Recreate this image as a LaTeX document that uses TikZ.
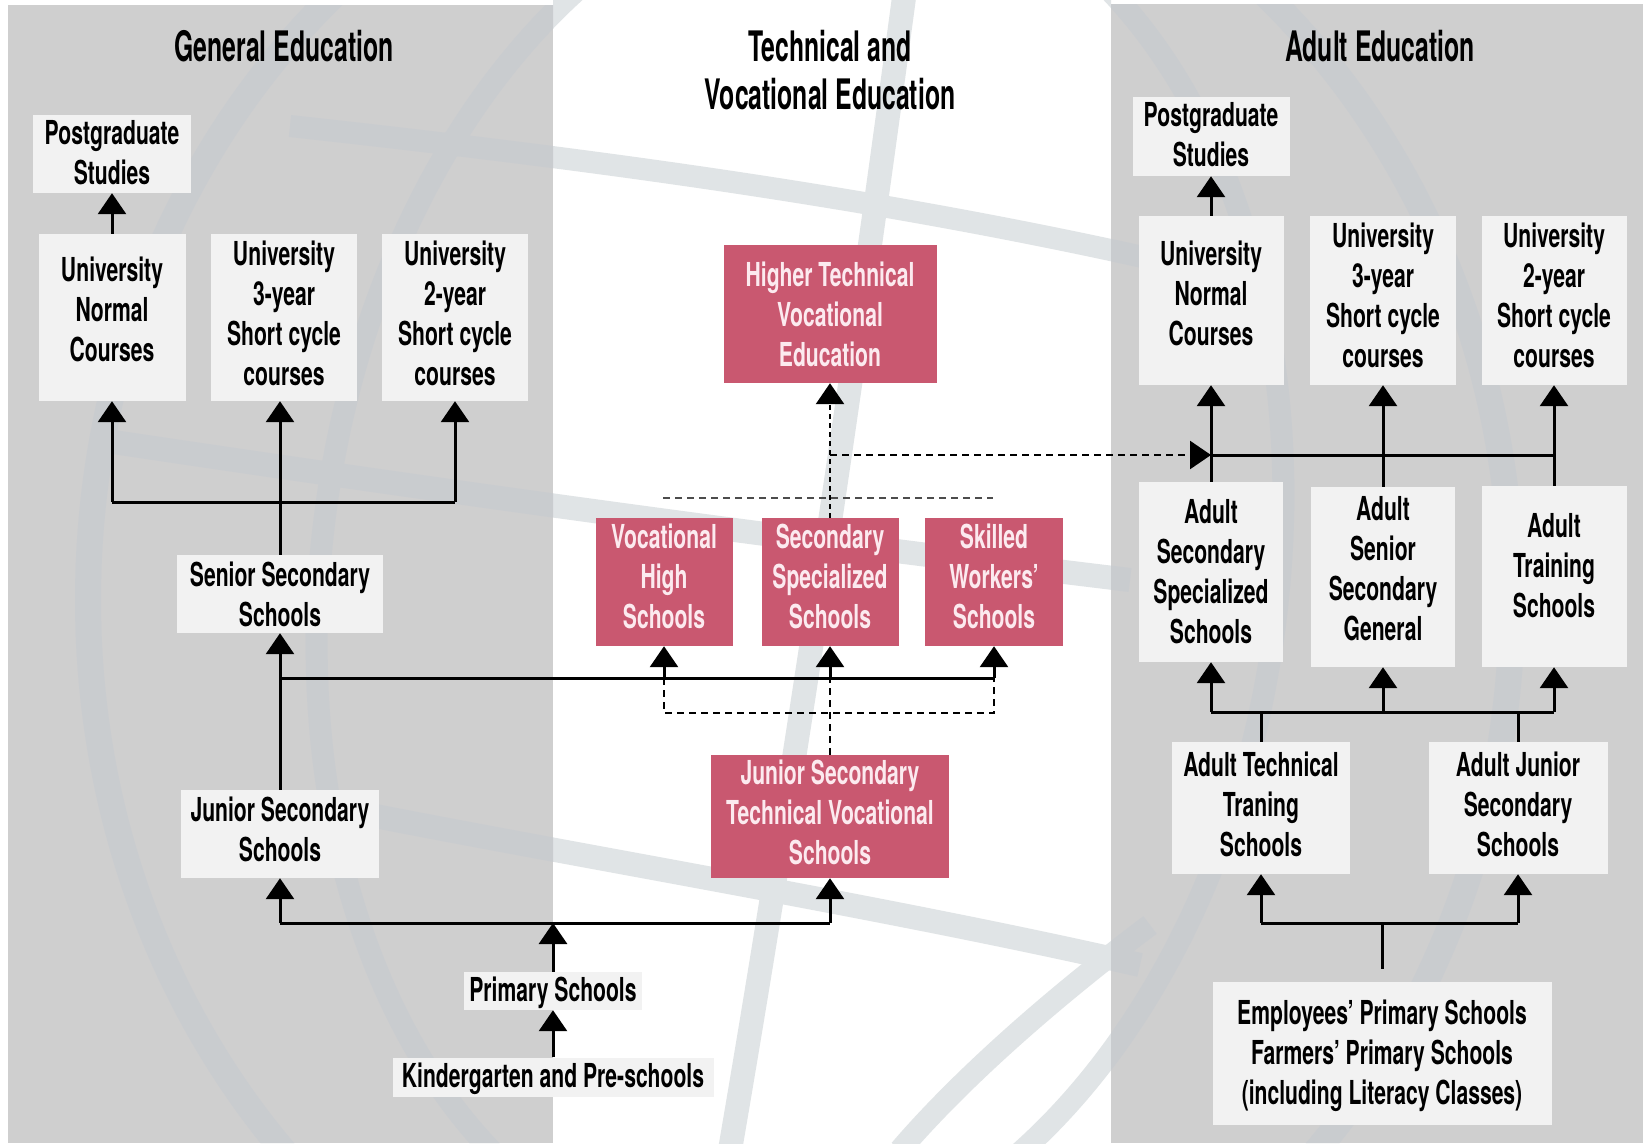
\documentclass[tikz,border=0pt]{standalone}
\usepackage{fontspec}
\setmainfont{TeX Gyre Heros}[FakeStretch=0.64]
\newfontfamily\titlefont{TeX Gyre Heros}[FakeStretch=0.59]
\usetikzlibrary{arrows.meta}
\definecolor{panel}{RGB}{207,207,207}
\definecolor{boxfill}{RGB}{242,242,242}
\definecolor{rose}{RGB}{201,88,112}
\definecolor{rosetext}{RGB}{252,234,239}
\definecolor{bandw}{RGB}{224,228,230}
\definecolor{bandg}{RGB}{201,204,207}
\newcommand\wmbands[1]{%
  \draw[#1,line width=26pt] (800,600) ellipse [x radius=712, y radius=800];
  \draw[#1,line width=22pt,rotate around={-8:(800,570)}] (800,570) ellipse [x radius=478, y radius=700];
  \draw[#1,line width=24pt] (905,-10) .. controls (850,400) and (790,800) .. (730,1150);
  \draw[#1,line width=22pt] (290,126) .. controls (600,160) and (900,200) .. (1200,270);
  \draw[#1,line width=24pt] (100,440) .. controls (500,500) and (800,540) .. (1130,580);
  \draw[#1,line width=24pt] (370,815) .. controls (600,860) and (900,910) .. (1140,965);
  \draw[#1,line width=22pt] (1150,925) .. controls (1050,1000) and (960,1080) .. (900,1150);
}
\tikzset{
  bfnt/.style={font=\fontsize{33}{40}\selectfont\bfseries},
  gbox/.style={inner sep=0pt, fill=boxfill},
  rbox/.style={inner sep=0pt, fill=rose},
  gtxt/.style={inner sep=0pt, align=center, bfnt, text=black},
  rtxt/.style={inner sep=0pt, align=center, bfnt, text=rosetext},
  title/.style={inner sep=0pt, align=center, font=\titlefont\fontsize{42}{48}\selectfont\bfseries},
  ln/.style={line width=3pt},
  arr/.style={line width=3pt, -{Triangle[width=28pt,length=21pt]}},
  dsh/.style={line width=2.5pt, dash pattern=on 7pt off 5pt},
  dshv/.style={line width=2.8pt, dash pattern=on 5pt off 4pt, -{Triangle[width=28pt,length=21pt]}},
  dsharr/.style={dsh, -{Triangle[width=28pt,length=21pt]}},
  sep/.style={line width=1.4pt, dash pattern=on 7pt off 5pt, black!70},
}
% box: style letter, name, centre, width, height, text shift, text
\newcommand\bx[7]{%
  \node[#1box, minimum width=#4pt, minimum height=#5pt] (#2) at (#3) {};
  \node[#1txt] (#2t) at ([yshift=#6pt]#2.center) {#7};}
\begin{document}
\begin{tikzpicture}[x=1pt,y=-1pt]
\useasboundingbox (0,0) rectangle (1643,1143);
\fill[white] (0,0) rectangle (1643,1143);
\fill[panel] (8,5) rectangle (553,1143);
\fill[panel] (1111,4) rectangle (1643,1143);
% watermark globe
\begin{scope}
  \clip (553,0) rectangle (1111,1143);
  \wmbands{bandw}
\end{scope}
\begin{scope}
  \clip (8,5) rectangle (553,1143) (1111,4) rectangle (1643,1143);
  \wmbands{bandg}
\end{scope}

% titles
\node[title] (tGen) at (284,46) {General Education};
\node[title] (tTech) at (830,70) {Technical and\\Vocational Education};
\node[title] (tAdult) at (1380,46) {Adult Education};

% general education
\bx{g}{gPG}{112,154}{158}{78}{1}{Postgraduate\\Studies}
\bx{g}{gUN}{112,317.5}{147}{167}{8}{University\\Normal\\Courses}
\bx{g}{gU3}{284,317.5}{146}{167}{4}{University\\3-year\\Short cycle\\courses}
\bx{g}{gU2}{455,317.5}{146}{167}{4}{University\\2-year\\Short cycle\\courses}
\bx{g}{gSS}{280,594}{206}{78}{0}{Senior Secondary\\Schools}
\bx{g}{gJS}{280,834}{198}{88}{5}{Junior Secondary\\Schools}
\bx{g}{gPS}{553,991}{178}{38}{-2}{Primary Schools}
\bx{g}{gKG}{553,1077}{321}{39}{-2}{Kindergarten and Pre-schools}

% technical and vocational
\bx{r}{tHT}{830,314}{213}{138}{0}{Higher Technical\\Vocational\\Education}
\bx{r}{tVH}{664,582}{137}{128}{6}{Vocational\\High\\Schools}
\bx{r}{tSS}{830,582}{137}{128}{6}{Secondary\\Specialized\\Schools}
\bx{r}{tSW}{994,582}{138}{128}{6}{Skilled\\Workers’\\Schools}
\bx{r}{tJS}{830,816.5}{238}{123}{4}{Junior Secondary\\Technical Vocational\\Schools}

% adult education
\bx{g}{aPG}{1211,136.5}{157}{79}{2}{Postgraduate\\Studies}
\bx{g}{aUN}{1211,300.5}{145}{169}{7}{University\\Normal\\Courses}
\bx{g}{aU3}{1383,300.5}{146}{169}{5}{University\\3-year\\Short cycle\\courses}
\bx{g}{aU2}{1554,300.5}{145}{169}{5}{University\\2-year\\Short cycle\\courses}
\bx{g}{aSS}{1211,572}{144}{180}{0}{Adult\\Secondary\\Specialized\\Schools}
\bx{g}{aSG}{1383,577}{144}{180}{8}{Adult\\Senior\\Secondary\\General}
\bx{g}{aTS}{1554,576.5}{145}{181}{11}{Adult\\Training\\Schools}
\bx{g}{aTT}{1261,808}{178}{132}{4}{Adult Technical\\Traning\\Schools}
\bx{g}{aJS}{1518,808}{179}{132}{4}{Adult Junior\\Secondary\\Schools}
\bx{g}{aEP}{1382,1053.5}{339}{143}{-2}{Employees’ Primary Schools\\Farmers’ Primary Schools\\(including Literacy Classes)}

% junction coordinates
\coordinate (gjU) at (280,502);
\coordinate (gjS) at (280,678);
\coordinate (gjB) at (553,923);
\coordinate (tdash) at (830,713);
\coordinate (tjH) at (830,455);
\coordinate (sepL) at (663,498);
\coordinate (sepR) at (993,498);
\coordinate (ajU) at (1383,455);
\coordinate (ajM) at (1383,712);
\coordinate (ajB) at (1382,923);

% general education connectors
\draw[arr] (gUN.north) -- (gPG.south);
\draw[arr] (gSS.north) -- (gSS.north |- gU3.south);
\draw[ln] (gjU -| gUN) -- (gjU -| gU2);
\draw[arr] (gjU -| gUN) -- (gUN.south);
\draw[arr] (gjU -| gU2) -- (gU2.south);
\draw[arr] (gJS.north) -- (gSS.south);
\draw[ln] (gjS) -- (gjS -| tSW);
\draw[arr] (gjS -| tVH) -- (tVH.south);
\draw[arr] (gjS -| tSS) -- (tSS.south);
\draw[arr] (gjS -| tSW) -- (tSW.south);
\draw[dsh] (tJS.north) -- (gjS -| tJS);
\draw[dsh] (gjS -| tVH) -- (tdash -| tVH) -- (tdash -| tSW) -- (gjS -| tSW);
\draw[ln] (gjB -| gJS) -- (gjB -| tJS);
\draw[arr] (gjB -| gJS) -- (gJS.south);
\draw[arr] (gjB -| tJS) -- (tJS.south);
\draw[arr] (gPS.north) -- (gjB);
\draw[arr] (gKG.north) -- (gPS.south);

% technical connectors
\draw[sep] (sepL) -- (sepR);
\draw[dshv] (tSS.north) -- (tHT.south);
\draw[dsharr] (tjH) -- (tjH -| aSS);

% adult connectors
\draw[arr] (aUN.north) -- (aPG.south);
\draw[arr] (aSS.north) -- (aUN.south);
\draw[arr] (aSG.north) -- (aU3.south);
\draw[arr] (aTS.north) -- (aU2.south);
\draw[ln] (ajU -| aSS) -- (ajU -| aTS);
\draw[ln] (ajM -| aSS) -- (ajM -| aTS);
\draw[arr] (ajM -| aSS) -- (aSS.south);
\draw[arr] (ajM -| aSG) -- (aSG.south);
\draw[arr] (ajM -| aTS) -- (aTS.south);
\draw[ln] (aTT.north) -- (aTT.north |- ajM);
\draw[ln] (aJS.north) -- (aJS.north |- ajM);
\draw[ln] (ajB -| aTT) -- (ajB -| aJS);
\draw[arr] (ajB -| aTT) -- (aTT.south);
\draw[arr] (ajB -| aJS) -- (aJS.south);
\draw[ln] ([yshift=13pt]aEP.north) -- (ajB);
\end{tikzpicture}
\end{document}
